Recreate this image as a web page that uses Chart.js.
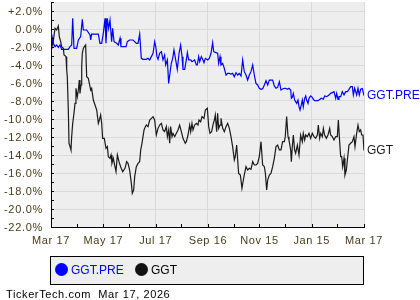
<!DOCTYPE html>
<html>
<head>
<meta charset="utf-8">
<script src="https://cdn.jsdelivr.net/npm/chart.js@4"></script>
<style>
  html,body{margin:0;padding:0;background:#fff;}
  #wrap{position:relative;width:420px;height:300px;overflow:hidden;font-family:"Liberation Sans",Arial,sans-serif;}
  #c{position:absolute;left:0;top:0;}
  #legend{position:absolute;left:50px;top:256px;width:312px;height:27px;border:1px solid #000;background:#eeeeee;font-size:12px;}
  .lg{position:absolute;top:6px;line-height:14px;white-space:nowrap;}
  .dot{display:inline-block;width:13px;height:13px;border-radius:50%;vertical-align:-2px;margin-right:3px;}
  #footer{position:absolute;left:6px;top:288px;font-size:11px;letter-spacing:0.6px;color:#000;white-space:nowrap;line-height:13px;}
</style>
</head>
<body>
<div id="wrap">
  <canvas id="c" width="420" height="300"></canvas>
  <div id="legend">
    <span class="lg" style="left:4px;color:#0000ff"><span class="dot" style="background:#0000ff"></span>GGT.PRE</span>
    <span class="lg" style="left:84px;color:#000"><span class="dot" style="background:#111"></span>GGT</span>
  </div>
  <div id="footer">TickerTech.com&nbsp; Mar 17, 2026</div>
</div>
<script>
// ---- Data (x = days since Mar 17, 2025; y = % change) ----
const seriesNames = ['GGT.PRE', 'GGT'];
const xTickDays = [0, 30, 61, 91, 122, 152, 183, 213, 243, 273, 304, 334, 365];
const xTickLabels = ['Mar 17', 'May 17', 'Jul 17', 'Sep 16', 'Nov 15', 'Jan 15', 'Mar 17'];

const preDays = [0,2.7,4.7,6.6,8.5,10.5,12.4,20.2,22.2,24.1,25.3,26.8,29.9,31.9,34.6,36.5,37.7,41.6,45.5,46.3,47.4,55.2,57.1,59.1,61.0,63.0,64.1,65.7,67.2,68.8,70.7,71.9,73.5,76.6,78.5,80.5,81.6,87.5,89.0,
  91.7,95.6,97.6,99.5,101.5,103.4,105.3,107.3,111.2,113.1,115.1,117.0,119.0,120.9,122.1,123.6,124.8,126.7,128.7,130.6,132.5,133.7,135.7,137.2,139.2,140.3,141.9,143.4,145.4,147.3,149.3,151.2,152.8,153.9,155.9,157.8,159.0,160.5,162.9,164.4,167.5,169.5,170.6,172.2,173.4,175.3,177.2,178.4,180.0,
  182.7,184.6,186.6,188.5,189.7,192.4,194.3,195.5,197.1,198.2,200.2,202.1,204.1,206.0,208.0,209.9,211.8,213.8,215.7,217.7,219.6,221.6,223.5,225.4,227.4,229.3,231.3,233.2,235.2,237.1,239.0,241.0,242.9,244.9,246.8,248.8,250.7,252.7,254.6,258.5,260.4,262.4,264.3,266.3,268.2,270.1,272.1,
  273.6,275.6,277.5,279.5,280.3,281.4,282.6,284.1,285.3,286.5,288.0,289.2,290.4,291.9,293.1,294.2,295.8,297.0,298.1,299.7,300.9,302.8,304.7,305.9,307.5,311.3,313.7,315.2,317.6,319.1,321.5,324.2,326.1,328.1,330.0,332.0,333.1,334.7,335.8,337.8,339.7,341.7,343.6,345.6,347.5,349.4,351.4,352.6,354.1,355.3,356.4,358.0,359.5,361.1,363.0,365.0];
const preVals = [-0.30,-1.59,-1.96,-1.78,-2.04,-1.78,-2.26,-2.26,-1.96,-1.78,1.19,-2.15,-2.15,-1.22,-0.85,1.07,-0.11,-0.11,-0.67,-1.22,-0.56,-0.56,-1.59,-1.59,-0.48,1.19,-1.59,1.19,0.07,0.99,-1.41,0.07,-1.41,-1.59,-1.78,-1.04,-1.96,-1.96,-1.41,
  -1.22,-1.22,-1.41,-1.59,-1.59,-0.56,-3.26,-3.37,-3.37,-3.26,-3.44,-3.07,-2.70,-1.41,-1.96,-3.07,-3.37,-2.70,-2.52,-3.44,-2.89,-4.00,-3.44,-6.04,-4.56,-3.81,-3.26,-2.33,-3.44,-4.48,-2.70,-1.78,-3.07,-4.48,-4.48,-3.44,-2.63,-3.44,-3.44,-3.63,-3.44,-4.00,-4.00,-3.07,-3.63,-3.07,-3.44,-3.74,-3.26,
  -3.44,-3.26,-2.70,-1.52,-2.52,-2.63,-2.70,-3.81,-3.07,-4.00,-3.81,-4.37,-5.11,-4.93,-4.93,-5.00,-4.93,-5.30,-4.85,-5.11,-4.93,-5.22,-3.44,-4.74,-5.11,-5.67,-5.11,-4.74,-4.00,-5.11,-6.04,-6.22,-6.59,-6.70,-6.63,-6.22,-5.74,-6.22,-5.67,-5.67,-6.33,-6.59,-6.48,-5.85,-6.78,-6.67,-6.59,
  -6.59,-6.70,-6.59,-6.78,-7.70,-7.59,-7.15,-7.89,-8.07,-8.26,-7.89,-8.63,-9.00,-8.44,-7.89,-8.63,-7.70,-7.44,-7.89,-8.26,-7.70,-7.44,-7.59,-7.81,-7.96,-7.96,-7.81,-7.70,-7.81,-7.44,-7.52,-7.33,-7.15,-7.07,-6.96,-7.70,-7.15,-7.81,-7.52,-7.52,-6.96,-7.33,-6.96,-6.96,-6.70,-6.41,-6.41,-7.33,-6.59,-6.96,-7.33,-6.59,-7.33,-6.70,-6.63,-7.40];

const ggtDays = [0,2.0,4.7,6.6,8.5,9.7,11.3,12.4,14.4,15.2,17.5,18.3,19.0,20.2,21.0,22.2,23.3,24.1,25.3,26.8,28.0,29.1,30.7,31.9,33.0,33.8,35.0,35.8,36.5,37.7,38.9,40.4,41.6,43.5,44.7,46.3,47.4,49.4,51.3,53.3,55.2,56.4,57.9,59.1,60.2,62.2,64.1,65.7,66.9,68.8,70.0,71.1,72.7,74.6,75.8,77.4,79.3,81.2,83.6,86.3,88.2,
  89.8,91.7,93.7,94.8,96.4,97.6,99.5,101.5,103.4,104.6,106.1,107.3,108.5,110.0,111.2,113.1,115.1,117.0,119.0,120.9,122.8,124.8,126.7,128.7,130.6,132.5,134.5,135.7,137.2,138.4,139.5,141.1,142.3,144.2,146.2,148.1,150.0,152.0,153.9,156.6,157.8,159.8,161.7,162.9,164.4,165.6,167.5,169.5,171.4,172.6,174.5,176.1,178.4,180.0,182.3,
  183.9,185.4,187.3,189.3,190.5,191.6,193.2,194.3,195.5,197.1,198.2,200.2,202.1,204.1,206.0,208.0,209.9,211.8,213.8,214.9,216.5,217.7,218.8,220.8,222.7,224.3,225.4,227.4,229.3,231.3,233.2,235.2,237.1,239.0,241.0,242.9,244.9,246.8,248.8,250.0,251.5,252.7,254.6,256.5,258.5,260.4,262.4,264.3,266.3,268.2,270.1,272.1,273.2,
  274.8,276.4,277.5,279.5,280.3,281.4,282.6,284.1,285.3,287.3,289.2,291.1,293.1,294.2,295.8,297.0,298.9,300.9,302.8,304.7,306.7,308.6,310.6,311.7,313.3,314.5,316.4,317.6,319.1,321.1,323.0,325.0,326.1,328.1,330.0,332.0,333.9,335.1,336.6,337.8,339.0,340.1,341.7,342.8,344.4,345.6,347.5,349.4,351.4,353.3,354.5,356.4,358.0,359.5,361.1,362.3,363.8,365.0];
const ggtVals = [-0.11,-1.78,0.07,-0.11,0.33,-0.85,-1.41,-1.96,-2.15,-2.89,-3.07,-4.56,-5.30,-9.00,-12.70,-13.07,-13.44,-11.96,-10.48,-9.37,-8.26,-6.59,-7.52,-6.78,-5.67,-7.15,-6.22,-4.19,-2.70,-2.15,-1.96,-1.78,-5.30,-5.48,-6.04,-6.78,-6.59,-7.89,-8.44,-9.00,-10.48,-10.11,-9.56,-10.48,-12.15,-12.15,-13.26,-13.07,-14.19,-14.37,-14.00,-14.93,-14.37,-15.30,-15.85,-14.00,-14.74,-15.30,-15.85,-15.48,-14.74,
  -14.93,-15.67,-17.15,-18.26,-17.89,-16.41,-15.30,-14.93,-14.74,-13.44,-12.70,-11.96,-11.22,-10.85,-10.67,-10.85,-10.11,-9.93,-9.74,-10.11,-11.78,-11.04,-10.67,-10.48,-11.22,-11.41,-10.85,-11.96,-11.22,-12.70,-10.85,-11.96,-11.59,-11.96,-11.59,-11.22,-10.67,-11.41,-12.15,-12.70,-12.52,-11.78,-10.67,-11.41,-10.48,-11.22,-10.67,-10.48,-10.67,-10.11,-10.30,-9.74,-9.93,-9.00,-8.81,
  -10.85,-11.59,-11.41,-10.48,-10.11,-9.56,-11.41,-9.37,-11.04,-10.67,-9.93,-11.04,-11.41,-10.85,-10.48,-11.04,-11.96,-13.07,-14.56,-14.19,-12.89,-14.56,-16.04,-16.22,-17.70,-16.78,-16.22,-15.30,-15.67,-15.48,-15.59,-14.74,-15.11,-15.11,-14.93,-14.19,-12.52,-15.11,-15.30,-16.04,-17.89,-16.78,-16.22,-16.04,-15.30,-14.37,-13.07,-12.89,-13.44,-13.44,-12.52,-12.52,-11.96,
  -9.74,-11.96,-12.33,-13.44,-14.74,-13.07,-11.78,-13.44,-13.81,-12.89,-14.00,-11.78,-12.52,-11.59,-12.33,-11.78,-11.96,-11.59,-12.15,-11.59,-11.96,-12.15,-11.78,-10.67,-12.15,-11.59,-11.96,-11.04,-11.78,-12.15,-11.78,-11.04,-11.78,-11.96,-12.33,-11.96,-11.96,-10.11,-12.52,-14.19,-14.19,-15.30,-14.37,-16.22,-15.67,-14.56,-12.89,-12.70,-12.52,-11.96,-13.07,-11.59,-10.67,-11.41,-11.22,-11.78,-11.78,-13.50];

const colors = ['#0000ff', '#1a1a1a'];
const labelColor = '#4a3a18';
const FONT = '"Liberation Sans", Arial, sans-serif';

function pts(xs, ys){ return xs.map((x,i)=>({x:x, y:ys[i]})); }
function yFmt(v){ return (v>0?'+':'') + v.toFixed(1) + '%'; }

const bgPlugin = {
  id:'bg',
  beforeDraw(chart){
    const {ctx, chartArea:a} = chart;
    ctx.save();
    ctx.fillStyle = '#eeeeee';
    ctx.fillRect(a.left, a.top, a.right-a.left, a.bottom-a.top);
    ctx.restore();
    ctx.letterSpacing = '0.6px';
  }
};

// y-axis labels drawn from the scale's own ticks (avoids Chart.js top padding for labels)
const yLabels = {
  id:'yLabels',
  afterDraw(chart){
    const {ctx, chartArea:a, scales} = chart;
    const ys = scales.y;
    ctx.save();
    ctx.letterSpacing = '0.7px';
    ctx.font = '11px ' + FONT;
    ctx.fillStyle = labelColor;
    ctx.textAlign = 'right';
    ctx.textBaseline = 'middle';
    ys.ticks.forEach((t)=>{
      if (t.value % 2 === 0) ctx.fillText(yFmt(t.value), a.left - 8, ys.getPixelForValue(t.value) + 0.5);
    });
    ctx.restore();
  }
};

const tickMarks = {
  id:'tickMarks',
  afterDraw(chart){
    const {ctx, chartArea:a, scales} = chart;
    ctx.save();
    ctx.strokeStyle = '#000';
    ctx.lineWidth = 1;
    ctx.beginPath();
    const ys = scales.y;
    ys.ticks.forEach((t,i)=>{
      const p = Math.round(ys.getPixelForTick(i)) + 0.5;
      ctx.moveTo(a.left, p); ctx.lineTo(a.left+3, p);
    });
    const xs = scales.x;
    xs.ticks.forEach((t,i)=>{
      const p = Math.round(xs.getPixelForTick(i)) + 0.5;
      ctx.moveTo(p, a.bottom); ctx.lineTo(p, a.bottom-3);
    });
    ctx.stroke();
    ctx.restore();
  }
};

const endLabels = {
  id:'endLabels',
  afterDatasetsDraw(chart){
    const {ctx, chartArea:a, scales} = chart;
    ctx.save();
    ctx.letterSpacing = '0px';
    ctx.font = '12px ' + FONT;
    ctx.textBaseline = 'middle';
    ctx.textAlign = 'left';
    chart.data.datasets.forEach((ds)=>{
      const last = ds.data[ds.data.length-1];
      ctx.fillStyle = ds.borderColor;
      ctx.fillText(ds.label, a.right + 3, scales.y.getPixelForValue(last.y) + 0.5);
    });
    ctx.restore();
  }
};

new Chart(document.getElementById('c'), {
  type:'line',
  data:{
    datasets:[
      {label:seriesNames[0], data:pts(preDays, preVals), borderColor:colors[0], borderWidth:1.2, pointRadius:0, tension:0, fill:false},
      {label:seriesNames[1], data:pts(ggtDays, ggtVals), borderColor:colors[1], borderWidth:1.2, pointRadius:0, tension:0, fill:false}
    ]
  },
  options:{
    responsive:false,
    animation:false,
    devicePixelRatio:1,
    layout:{autoPadding:false, padding:{left:0, right:56, top:2, bottom:53}},
    plugins:{legend:{display:false}, tooltip:{enabled:false}},
    scales:{
      x:{
        type:'linear', min:0, max:365,
        afterBuildTicks(scale){ scale.ticks = xTickDays.map(v=>({value:v})); },
        afterFit(scale){ scale.height = 20; },
        ticks:{
          autoSkip:false, maxRotation:0, padding:7,
          color:labelColor, font:{family:FONT, size:11},
          callback:(v,i)=> i%2===0 ? xTickLabels[i/2] : ''
        },
        grid:{drawTicks:false, color:(c)=> c.index%2===0 ? '#dadada' : 'rgba(0,0,0,0)', lineWidth:1},
        border:{display:true, color:'#000', width:1}
      },
      y:{
        type:'linear', min:-22, max:3,
        afterFit(scale){ scale.width = 51; },
        ticks:{ stepSize:1, autoSkip:false, display:false },
        grid:{drawTicks:false, color:(c)=> (c.tick && c.tick.value%2===0) ? '#dadada' : 'rgba(0,0,0,0)', lineWidth:1},
        border:{display:true, color:'#000', width:1}
      }
    }
  },
  plugins:[bgPlugin, yLabels, tickMarks, endLabels]
});
</script>
</body>
</html>
